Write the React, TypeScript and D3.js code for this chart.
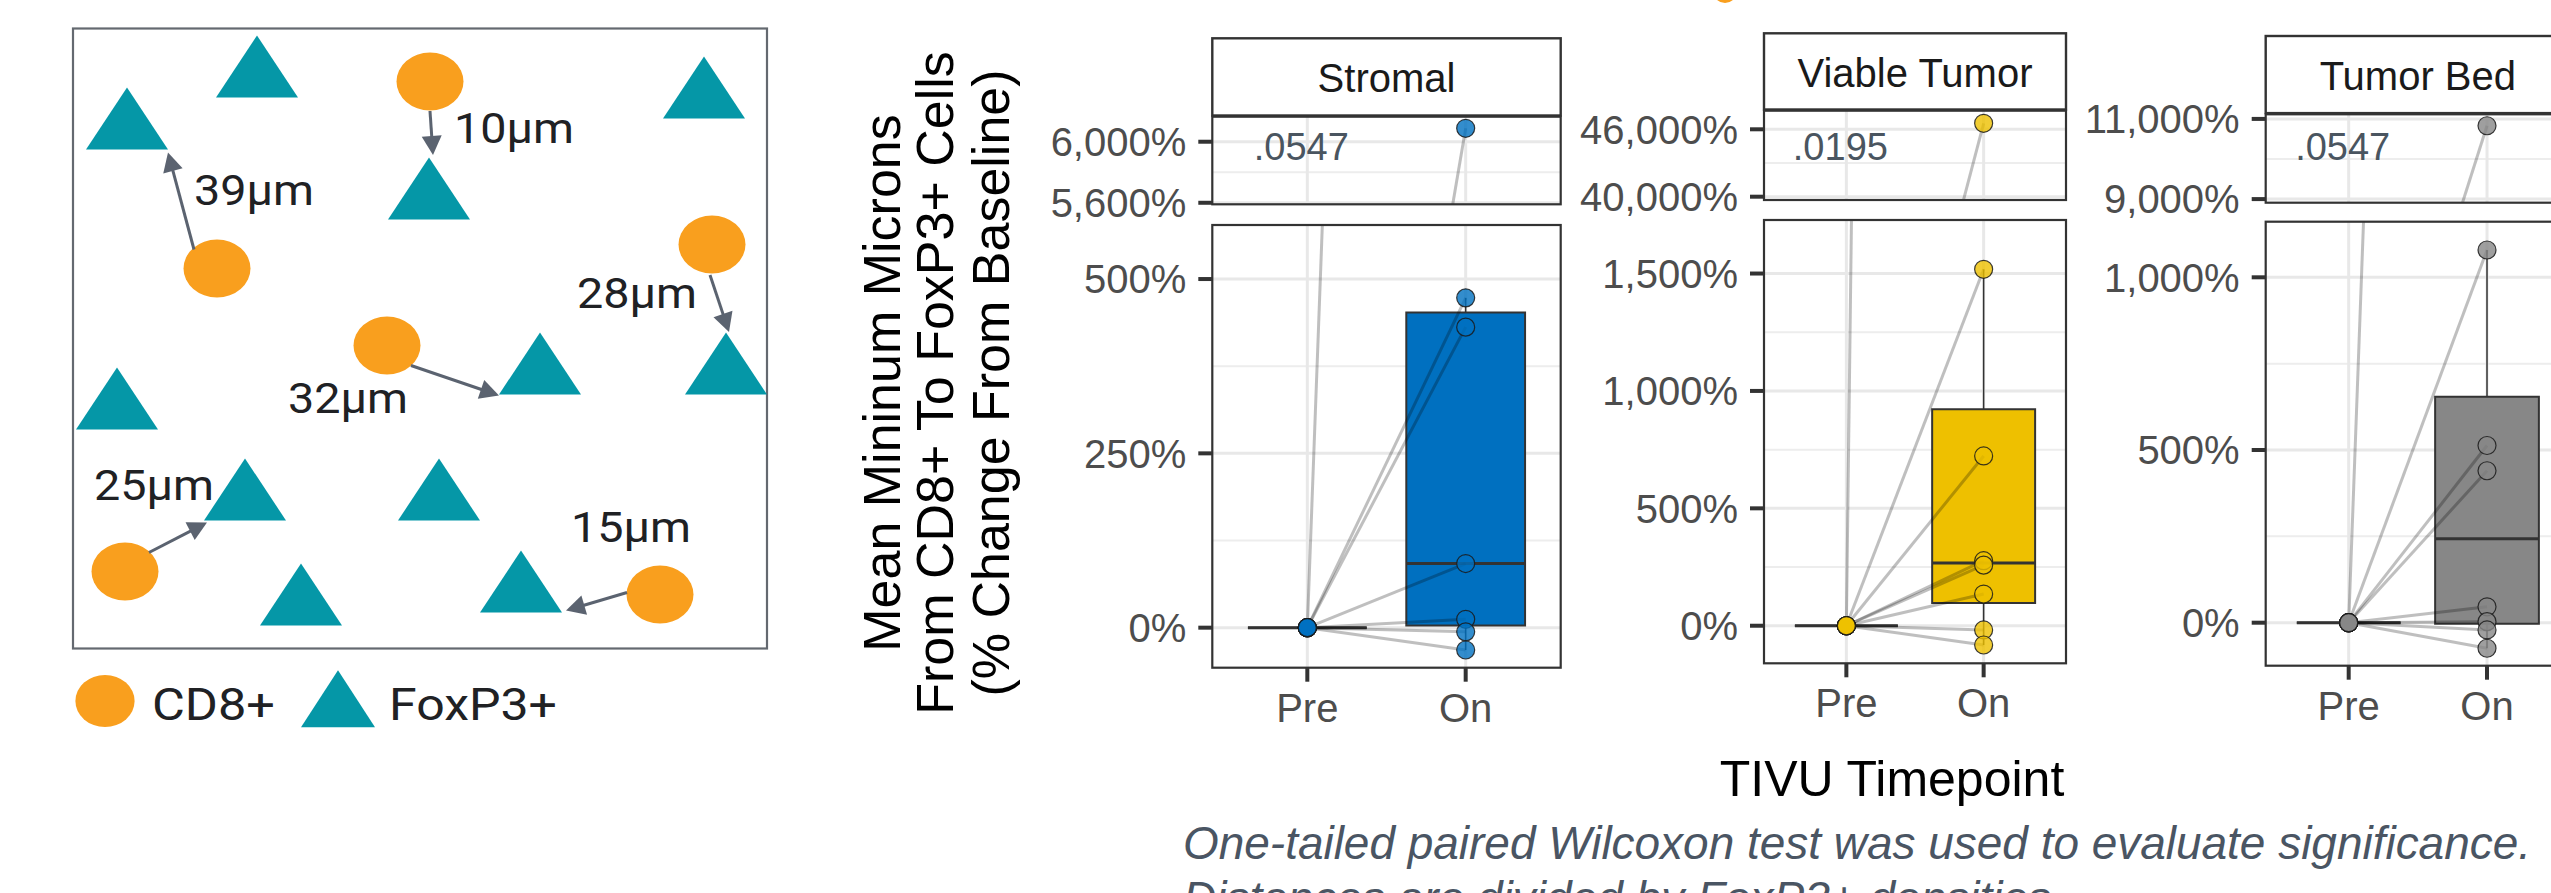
import React from 'react';
import * as d3 from 'd3';

// ---------------- DATA ----------------
const timepoints = ['Pre', 'On'];
const panelNames = ['Stromal', 'Viable Tumor', 'Tumor Bed'];
// % change from baseline at On-treatment (Pre is baseline = 0%)
const stromalOn = [6088, 473, 431, 92, 12, -6, -32];
const viableOn = [46534, 1518, 723, 277, 258, 135, -18, -82];
const tumorBedOn = [10829, 1079, 513, 440, 46, 3, -21, -74];
const pValues = ['.0547', '.0195', '.0547'];
const upperTicks = [[5600, 6000], [40000, 46000], [9000, 11000]];
const upperMinor = [[5800], [43000], [10000]];
const lowerTicks = [[0, 250, 500], [0, 500, 1000, 1500], [0, 500, 1000]];
const lowerMinor = [[125, 375], [250, 750, 1250], [250, 750]];
const upperDomains = [[5590, 6164], [39706, 47656], [8910, 11115]];
const lowerDomains = [[-57.4, 577.5], [-160, 1728], [-124.5, 1161]];
const panelColors = ['#0070C0', '#EEC000', '#878787'];
const yTitle = ['Mean Mininum Microns', 'From CD8+ To FoxP3+ Cells', '(% Change From Baseline)'];
const xTitle = 'TIVU Timepoint';
const footnotes = ['One-tailed paired Wilcoxon test was used to evaluate significance.', 'Distances are divided by FoxP3+ densities.'];

// schematic (in schematic units, box = 694 x 620)
const cd8Cells = [[357, 53], [144, 240], [639, 216], [314, 317], [52, 543], [587, 566]];
const foxp3Cells = [[184, 69], [54, 121], [631, 90], [356, 191], [467, 366], [653, 366], [44, 401], [172, 492], [366, 492], [228, 597], [448, 584]];
const distArrows = [
  [[357, 82.5], [360, 126.5]],
  [[121, 221], [95, 124]],
  [[637, 246.5], [656, 303.5]],
  [[338, 337], [426, 367]],
  [[76, 524], [134, 494]],
  [[554, 564], [493, 582]],
];
const distLabels = ['10μm', '39μm', '28μm', '32μm', '25μm', '15μm'];
const distLabelPos = [[381, 114], [121, 176.5], [504, 279], [215, 384.5], [21, 471.5], [498, 513.5]];
const legendItems = ['CD8+', 'FoxP3+'];

// ---------------- LAYOUT ----------------
const panelLayout = [
  { x0: 1212.3, x1: 1560.7, stripTop: 38.3, upTop: 116.7, upBot: 204.3, loTop: 225, loBot: 667.7 },
  { x0: 1764, x1: 2066, stripTop: 33.3, upTop: 110.7, upBot: 200, loTop: 220, loBot: 663.3 },
  { x0: 2265.7, x1: 2570, stripTop: 36, upTop: 114.3, upBot: 202.7, loTop: 221.7, loBot: 665.7 },
];

const CHART_FONT = '"Liberation Sans", Arial, Helvetica, sans-serif';
const SCHEM_FONT = 'Roboto, "Liberation Sans", Arial, sans-serif';
const fmt = (v: number) => d3.format(',')(v) + '%';

function boxStats(vals: number[]) {
  const s = [...vals].sort((a, b) => a - b);
  const q1 = d3.quantile(s, 0.25)!;
  const med = d3.quantile(s, 0.5)!;
  const q3 = d3.quantile(s, 0.75)!;
  const iqr = q3 - q1;
  const lo = d3.min(s.filter((v) => v >= q1 - 1.5 * iqr))!;
  const hi = d3.max(s.filter((v) => v <= q3 + 1.5 * iqr))!;
  return { q1, med, q3, lo, hi };
}

function Panel({ idx, values }: { idx: number; values: number[] }) {
  const L = panelLayout[idx];
  const color = panelColors[idx];
  const x = d3.scalePoint<string>().domain(timepoints).range([L.x0, L.x1]).padding(0.6);
  const step = x.step();
  const bw = step * 0.75;
  const yU = d3.scaleLinear().domain(upperDomains[idx]).range([L.upBot, L.upTop]);
  const yL = d3.scaleLinear().domain(lowerDomains[idx]).range([L.loBot, L.loTop]);
  const preVals = values.map(() => 0);
  const groups = [
    { key: 'Pre', vals: preVals },
    { key: 'On', vals: values },
  ];

  const layer = (y: d3.ScaleLinear<number, number>, top: number, bot: number, major: number[], minor: number[], clipId: string) => (
    <g>
      <defs>
        <clipPath id={clipId}>
          <rect x={L.x0} y={top} width={L.x1 - L.x0} height={bot - top} />
        </clipPath>
      </defs>
      <g clipPath={`url(#${clipId})`}>
        {minor.map((t) => (
          <line key={'mi' + t} x1={L.x0} x2={L.x1} y1={y(t)} y2={y(t)} stroke="#ededed" strokeWidth={2} />
        ))}
        {major.map((t) => (
          <line key={'ma' + t} x1={L.x0} x2={L.x1} y1={y(t)} y2={y(t)} stroke="#e8e8e8" strokeWidth={3} />
        ))}
        {timepoints.map((t) => (
          <line key={'v' + t} x1={x(t)} x2={x(t)} y1={top} y2={bot} stroke="#e8e8e8" strokeWidth={3} />
        ))}
        {groups.map((g) => {
          const st = boxStats(g.vals);
          const cx = x(g.key)!;
          const bx0 = cx - bw / 2;
          const bx1 = cx + bw / 2;
          return (
            <g key={'b' + g.key}>
              <line x1={cx} x2={cx} y1={y(st.q3)} y2={y(st.hi)} stroke="#333" strokeWidth={1.5} />
              <line x1={cx} x2={cx} y1={y(st.q1)} y2={y(st.lo)} stroke="#333" strokeWidth={1.5} />
              <path
                d={`M${bx0},${y(st.q3)}H${bx1}V${y(st.q1)}H${bx0}Z`}
                fill={color}
                stroke="#333"
                strokeWidth={2}
              />
              <line x1={bx0} x2={bx1} y1={y(st.med)} y2={y(st.med)} stroke="#333" strokeWidth={3} />
            </g>
          );
        })}
        {values.map((v, i) => (
          <line
            key={'l' + i}
            x1={x('Pre')}
            y1={y(preVals[i])}
            x2={x('On')}
            y2={y(v)}
            stroke="#000"
            strokeOpacity={0.25}
            strokeWidth={3}
          />
        ))}
        {groups.map((g) =>
          g.vals.map((v, i) => (
            <circle
              key={'p' + g.key + i}
              cx={x(g.key)}
              cy={y(v)}
              r={9}
              fill={color}
              fillOpacity={0.8}
              stroke="#1a1a1a"
              strokeOpacity={0.85}
              strokeWidth={1.2}
            />
          ))
        )}
      </g>
      <rect x={L.x0} y={top} width={L.x1 - L.x0} height={bot - top} fill="none" stroke="#333" strokeWidth={2.2} />
      {major.map((t) => (
        <g key={'t' + t}>
          <line x1={L.x0 - 14} x2={L.x0} y1={y(t)} y2={y(t)} stroke="#333" strokeWidth={4} />
          <text x={L.x0 - 26} y={y(t)} dy="0.36em" textAnchor="end" fontSize={40} fill="#4d4d4d" fontFamily={CHART_FONT}>
            {fmt(t)}
          </text>
        </g>
      ))}
    </g>
  );

  return (
    <g>
      <rect x={L.x0} y={L.stripTop} width={L.x1 - L.x0} height={L.upTop - L.stripTop - 1.2} fill="#fff" stroke="#333" strokeWidth={2.4} />
      <text x={(L.x0 + L.x1) / 2} y={L.stripTop + 53.5} textAnchor="middle" fontSize={40} fill="#1a1a1a" fontFamily={CHART_FONT}>
        {panelNames[idx]}
      </text>
      {layer(yU, L.upTop, L.upBot, upperTicks[idx], upperMinor[idx], `clipU${idx}`)}
      {layer(yL, L.loTop, L.loBot, lowerTicks[idx], lowerMinor[idx], `clipL${idx}`)}
      <text x={x('Pre')! - 6} y={160} textAnchor="middle" fontSize={38} fill="#4a5560" fontFamily={CHART_FONT}>
        {pValues[idx]}
      </text>
      {timepoints.map((t) => (
        <g key={'xt' + t}>
          <line x1={x(t)} x2={x(t)} y1={L.loBot} y2={L.loBot + 14} stroke="#333" strokeWidth={4} />
          <text x={x(t)} y={L.loBot + 54} textAnchor="middle" fontSize={40} fill="#4d4d4d" fontFamily={CHART_FONT}>
            {t}
          </text>
        </g>
      ))}
    </g>
  );
}

function Schematic() {
  const sx = d3.scaleLinear().domain([0, 694]).range([73, 767]);
  const sy = d3.scaleLinear().domain([0, 620]).range([28.5, 648.5]);
  const teal = '#0597A7';
  const orange = '#F99F1E';
  const arrowCol = '#5b6370';
  const tri = (ax: number, by: number, w: number, h: number) =>
    `M${sx(ax)},${sy(by) - h}L${sx(ax) + w / 2},${sy(by)}L${sx(ax) - w / 2},${sy(by)}Z`;
  return (
    <g>
      <rect x={sx(0)} y={sy(0)} width={sx(694) - sx(0)} height={sy(620) - sy(0)} fill="#fff" stroke="#646970" strokeWidth={2.2} />
      {foxp3Cells.map((c, i) => (
        <path key={'f' + i} d={tri(c[0], c[1], 82, 62)} fill={teal} />
      ))}
      {cd8Cells.map((c, i) => (
        <ellipse key={'c' + i} cx={sx(c[0])} cy={sy(c[1])} rx={33.5} ry={29} fill={orange} />
      ))}
      {distArrows.map((a, i) => {
        const x1 = sx(a[0][0]), y1 = sy(a[0][1]), x2 = sx(a[1][0]), y2 = sy(a[1][1]);
        const dx = x2 - x1, dy = y2 - y1;
        const len = Math.hypot(dx, dy);
        const ux = dx / len, uy = dy / len;
        const hl = 19, hw = 10;
        const bxp = x2 - ux * hl, byp = y2 - uy * hl;
        return (
          <g key={'a' + i}>
            <line x1={x1} y1={y1} x2={bxp + ux * 2} y2={byp + uy * 2} stroke={arrowCol} strokeWidth={3} />
            <path d={`M${x2},${y2}L${bxp - uy * hw},${byp + ux * hw}L${bxp + uy * hw},${byp - ux * hw}Z`} fill={arrowCol} />
          </g>
        );
      })}
      {distLabels.map((t, i) => (
        <text key={'d' + i} x={sx(distLabelPos[i][0])} y={sy(distLabelPos[i][1])} fontSize={42} fill="#202124" fontFamily={SCHEM_FONT} textLength={120} lengthAdjust="spacingAndGlyphs">
          {t}
        </text>
      ))}
      <ellipse cx={sx(32)} cy={sy(672.5)} rx={29.6} ry={26} fill={orange} />
      <path d={tri(265, 698.7, 74, 57)} fill={teal} />
      <text x={sx(79)} y={sy(691.5)} fontSize={44} fill="#202124" fontFamily={SCHEM_FONT} textLength={123} lengthAdjust="spacingAndGlyphs">
        {legendItems[0]}
      </text>
      <text x={sx(316)} y={sy(691.5)} fontSize={44} fill="#202124" fontFamily={SCHEM_FONT} textLength={168} lengthAdjust="spacingAndGlyphs">
        {legendItems[1]}
      </text>
    </g>
  );
}

export default function App() {
  const W = 2551;
  const H = 893;
  const series = [stromalOn, viableOn, tumorBedOn];
  const yTitleX = [899.5, 953, 1009];
  return (
    <svg width={W} height={H} style={{ position: 'absolute', left: 0, top: 0, background: '#fff' }}>
      <rect x={0} y={0} width={W} height={H} fill="#fff" />
      <Schematic />
      <ellipse cx={1725} cy={-9} rx={12} ry={12} fill="#F99F1E" />
      {yTitle.map((t, i) => (
        <text key={'yt' + i} transform={`translate(${yTitleX[i]},383) rotate(-90)`} textAnchor="middle" fontSize={52} fill="#000" fontFamily={CHART_FONT}>
          {t}
        </text>
      ))}
      {series.map((s, i) => (
        <Panel key={i} idx={i} values={s} />
      ))}
      <text x={1892} y={796} textAnchor="middle" fontSize={50} fill="#000" fontFamily={CHART_FONT}>
        {xTitle}
      </text>
      <text x={1183} y={859} fontSize={46} fontStyle="italic" fill="#4a5563" fontFamily={CHART_FONT} textLength={1348} lengthAdjust="spacingAndGlyphs">
        {footnotes[0]}
      </text>
      <text x={1183} y={914} fontSize={46} fontStyle="italic" fill="#4a5563" fontFamily={CHART_FONT}>
        {footnotes[1]}
      </text>
    </svg>
  );
}
